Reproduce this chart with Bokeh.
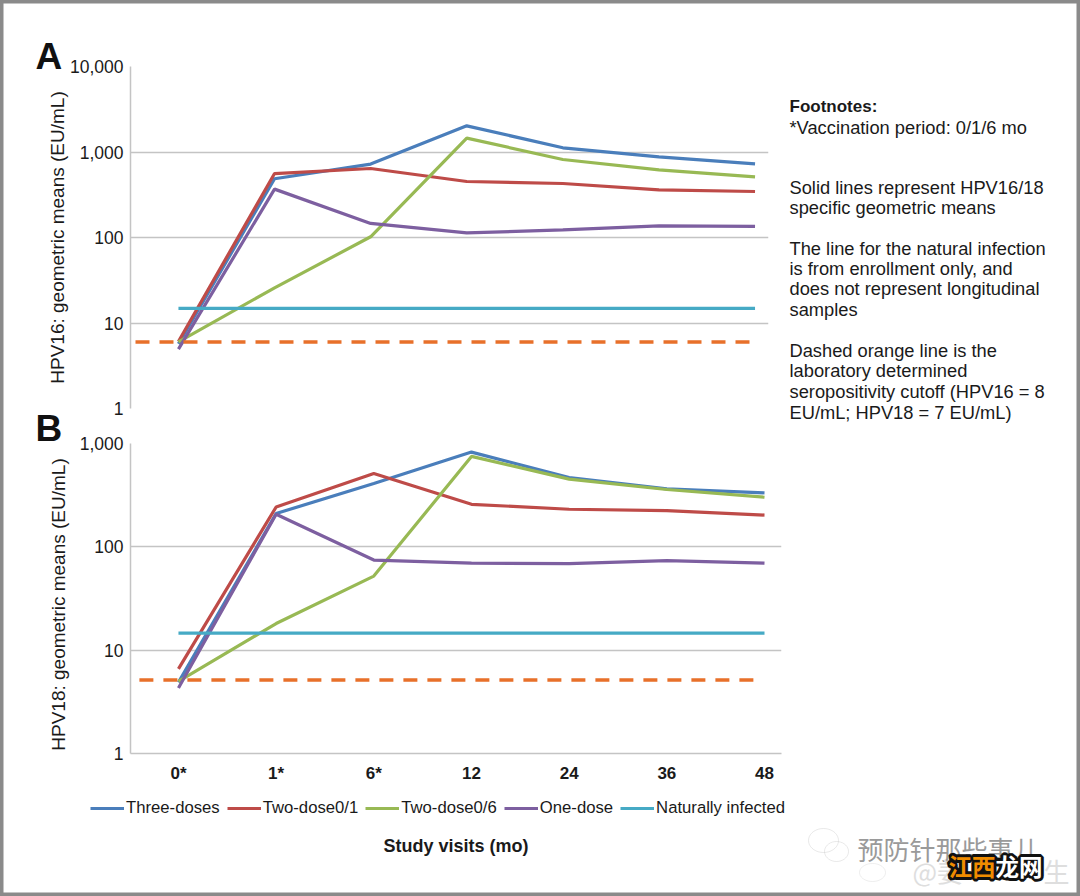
import math
from bokeh.embed import file_html
from bokeh.resources import INLINE
from bokeh.layouts import column
from bokeh.models import (FixedTicker, NumeralTickFormatter, Label, Legend, LegendItem,
                          PolyAnnotation, Range1d)
from bokeh.plotting import figure

visits = ["0*", "1*", "6*", "12", "24", "36", "48"]
x_pos = [0, 1, 2, 3, 4, 5, 6]

a_three = [5.7, 486, 722, 2024, 1120, 879, 728]
a_two01 = [6.08, 560, 641, 452, 428, 361, 345]
a_two06 = [6.0, 25.8, 102, 1454, 817, 619, 513]
a_one = [4.95, 368, 146, 113, 123, 137, 135]
a_natural = [14.8] * 7
a_cutoff = [5.98, 5.98]

b_three = [4.88, 210, 410, 826, 469, 364, 333]
b_two01 = [6.59, 243, 513, 258, 231, 224, 203]
b_two06 = [4.99, 18.1, 52.1, 750, 452, 359, 302]
b_one = [4.31, 207, 74.5, 69.6, 68.7, 73.5, 69.6]
b_natural = [14.6] * 7
b_cutoff = [5.15, 5.15]

series_names = ["Three-doses", "Two-dose0/1", "Two-dose0/6", "One-dose", "Naturally infected"]
series_colors = ["#4a7ebb", "#be4b48", "#98b954", "#7d5fa0", "#46aac5"]
cutoff_color = "#e8702a"
grid_color = "#c4c4c4"
FONT = "Liberation Sans"

footnotes = [
    ("Footnotes:", 105.7, "bold"),
    ("*Vaccination period: 0/1/6 mo", 126.7, "normal"),
    ("Solid lines represent HPV16/18", 186.7, "normal"),
    ("specific geometric means", 207, "normal"),
    ("The line for the natural infection", 248, "normal"),
    ("is from enrollment only, and", 268, "normal"),
    ("does not represent longitudinal", 288, "normal"),
    ("samples", 309, "normal"),
    ("Dashed orange line is the", 350, "normal"),
    ("laboratory determined", 370, "normal"),
    ("seropositivity cutoff (HPV16 = 8", 390.7, "normal"),
    ("EU/mL; HPV18 = 7 EU/mL)", 411.7, "normal"),
]

W, H = 1080, 896
TOP_A, H_A = 0, 445
TOP_B, H_B = 415, 481


def make_panel(top, height, y_start, y_end, ticks, x0, x1, frame_top, frame_bottom, frame_right):
    p = figure(width=W, height=height, output_backend="svg", toolbar_location=None,
               y_axis_type="log", x_range=Range1d(x0, x1), y_range=Range1d(y_start, y_end),
               min_border_left=130, min_border_right=W - frame_right,
               min_border_top=frame_top - top, min_border_bottom=top + height - frame_bottom,
               background_fill_color=None, border_fill_color=None, outline_line_color=None,
               frame_align=False)
    p.xgrid.visible = False
    p.ygrid.ticker = FixedTicker(ticks=ticks)
    p.ygrid.grid_line_color = grid_color
    p.ygrid.grid_line_width = 1.5
    ax = p.yaxis[0]
    ax.ticker = FixedTicker(ticks=ticks)
    ax.formatter = NumeralTickFormatter(format="0,0")
    ax.major_tick_line_color = None
    ax.minor_tick_line_color = None
    ax.major_tick_out = 0
    ax.axis_line_color = grid_color
    ax.axis_line_width = 1.5
    ax.major_label_standoff = 7
    ax.major_label_text_font = FONT
    ax.major_label_text_font_size = "17.5px"
    ax.major_label_text_color = "#1a1a1a"
    return p


def draw(p, rows, natural, cutoff, cut_x):
    for vals, c in zip(rows, series_colors):
        p.line(x_pos, vals, line_color=c, line_width=3.2)
    p.line(x_pos, natural, line_color=series_colors[4], line_width=3.2)
    p.line(cut_x, cutoff, line_color=cutoff_color, line_width=3.5, line_dash="14 10")


# ---------- Panel A
pa = make_panel(TOP_A, H_A, 1, 10000, [1, 10, 100, 1000, 10000], -0.499, 6.14, 66, 408, 768)
pa.xaxis.visible = False
draw(pa, [a_three, a_two01, a_two06, a_one], a_natural, a_cutoff, [-0.447, 6])
ya = pa.yaxis[0]
ya.axis_label = "HPV16: geometric means (EU/mL)"
ya.axis_label_text_font = FONT
ya.axis_label_text_font_style = "normal"
ya.axis_label_text_font_size = "19px"
ya.axis_label_text_color = "#1a1a1a"
ya.axis_label_standoff = -1

# ---------- Panel B
pb = make_panel(TOP_B, H_B, 1, 1000, [1, 10, 100, 1000], -0.491, 6.174, 443, 753, 781)
draw(pb, [b_three, b_two01, b_two06, b_one], b_natural, b_cutoff, [-0.4, 5.94])
xax = pb.xaxis[0]
xax.ticker = FixedTicker(ticks=x_pos)
xax.major_label_overrides = dict(zip(x_pos, visits))
xax.major_tick_line_color = None
xax.minor_tick_line_color = None
xax.major_tick_out = 0
xax.axis_line_color = grid_color
xax.axis_line_width = 1.5
xax.major_label_standoff = 10
xax.major_label_text_font = FONT
xax.major_label_text_font_size = "17px"
xax.major_label_text_font_style = "bold"
xax.major_label_text_color = "#1a1a1a"
xax.axis_label = "Study visits (mo)"
xax.axis_label_text_font = FONT
xax.axis_label_text_font_size = "18px"
xax.axis_label_text_font_style = "bold"
xax.axis_label_text_color = "#1a1a1a"
xax.axis_label_standoff = 50
pb.margin = (TOP_B - TOP_A - H_A, 0, 0, 0)

# ---------- Transparent overlay for everything that lies outside the plot frames
pt = figure(width=W, height=H, output_backend="svg", toolbar_location=None,
            x_range=Range1d(0, W), y_range=Range1d(H, 0),
            x_axis_location=None, y_axis_location=None,
            min_border=0, background_fill_color=None, border_fill_color=None,
            outline_line_color="#8a8a8a", outline_line_width=6, frame_align=False)
pt.grid.visible = False
pt.margin = (-H, 0, 0, 0)


def text(s, x, y, size, weight="normal", color="#1a1a1a", align="left", font=FONT, angle=0.0, **kw):
    pt.add_layout(Label(x=x, y=y, text=s, text_font=font, text_font_size=size, text_font_style=weight,
                        text_color=color, text_align=align, text_baseline="middle", angle=angle, **kw))


text("A", 35, 55.5, "37px", "bold", "#111111")
text("B", 35, 427.5, "37px", "bold", "#111111")
for s, y, w in footnotes:
    text(s, 789, y, "17px" if w == "bold" else "18.3px", w)
text("HPV18: geometric means (EU/mL)", 58, 604, "19px", align="center", angle=math.pi / 2)

nan = float("nan")
legend_lines = [pt.line([nan, nan], [nan, nan], line_color=c, line_width=3) for c in series_colors]
legend = Legend(items=[LegendItem(label=n, renderers=[r]) for n, r in zip(series_names, legend_lines)],
                orientation="horizontal", location=(90, 78), padding=0, margin=0,
                spacing=7, label_standoff=2, glyph_width=34, glyph_height=14,
                border_line_color=None, background_fill_color=None, background_fill_alpha=0,
                label_text_font=FONT, label_text_font_size="16.7px", label_text_color="#1a1a1a")
pt.add_layout(legend, "center")

# ---------- Watermark
CJK = "Noto Sans CJK SC"
text("预防针那些事儿", 857, 848, "26px", color="#9a9a9a", font=CJK)
text("@姜", 912, 870, "26px", color="#dedede", font=CJK)
text("生", 1043, 870, "26px", color="#dedede", font=CJK)
text("江西龙网", 948, 865, "23.5px", "bold", color="#111111", font=CJK, text_outline_color="#111111")
text("江西", 948, 865, "23.5px", "bold", color="#f08c00", font=CJK)
text("龙网", 995, 865, "23.5px", "bold", color="#ffffff", font=CJK)


def ring(cx, cy, rx, ry, color):
    xs = [cx + rx * math.cos(i * math.pi / 18) for i in range(36)]
    ys = [cy + ry * math.sin(i * math.pi / 18) for i in range(36)]
    pt.add_layout(PolyAnnotation(xs=xs, ys=ys, fill_color=None, fill_alpha=0, line_color=color, line_width=1))


ring(823, 840, 15, 12, "#b5b5b5")
ring(836, 851, 12, 10, "#b5b5b5")
ring(872, 872, 13, 9, "#c8c8c8")

page = column(pa, pb, pt)
open("out.html", "w").write(file_html(page, INLINE))
